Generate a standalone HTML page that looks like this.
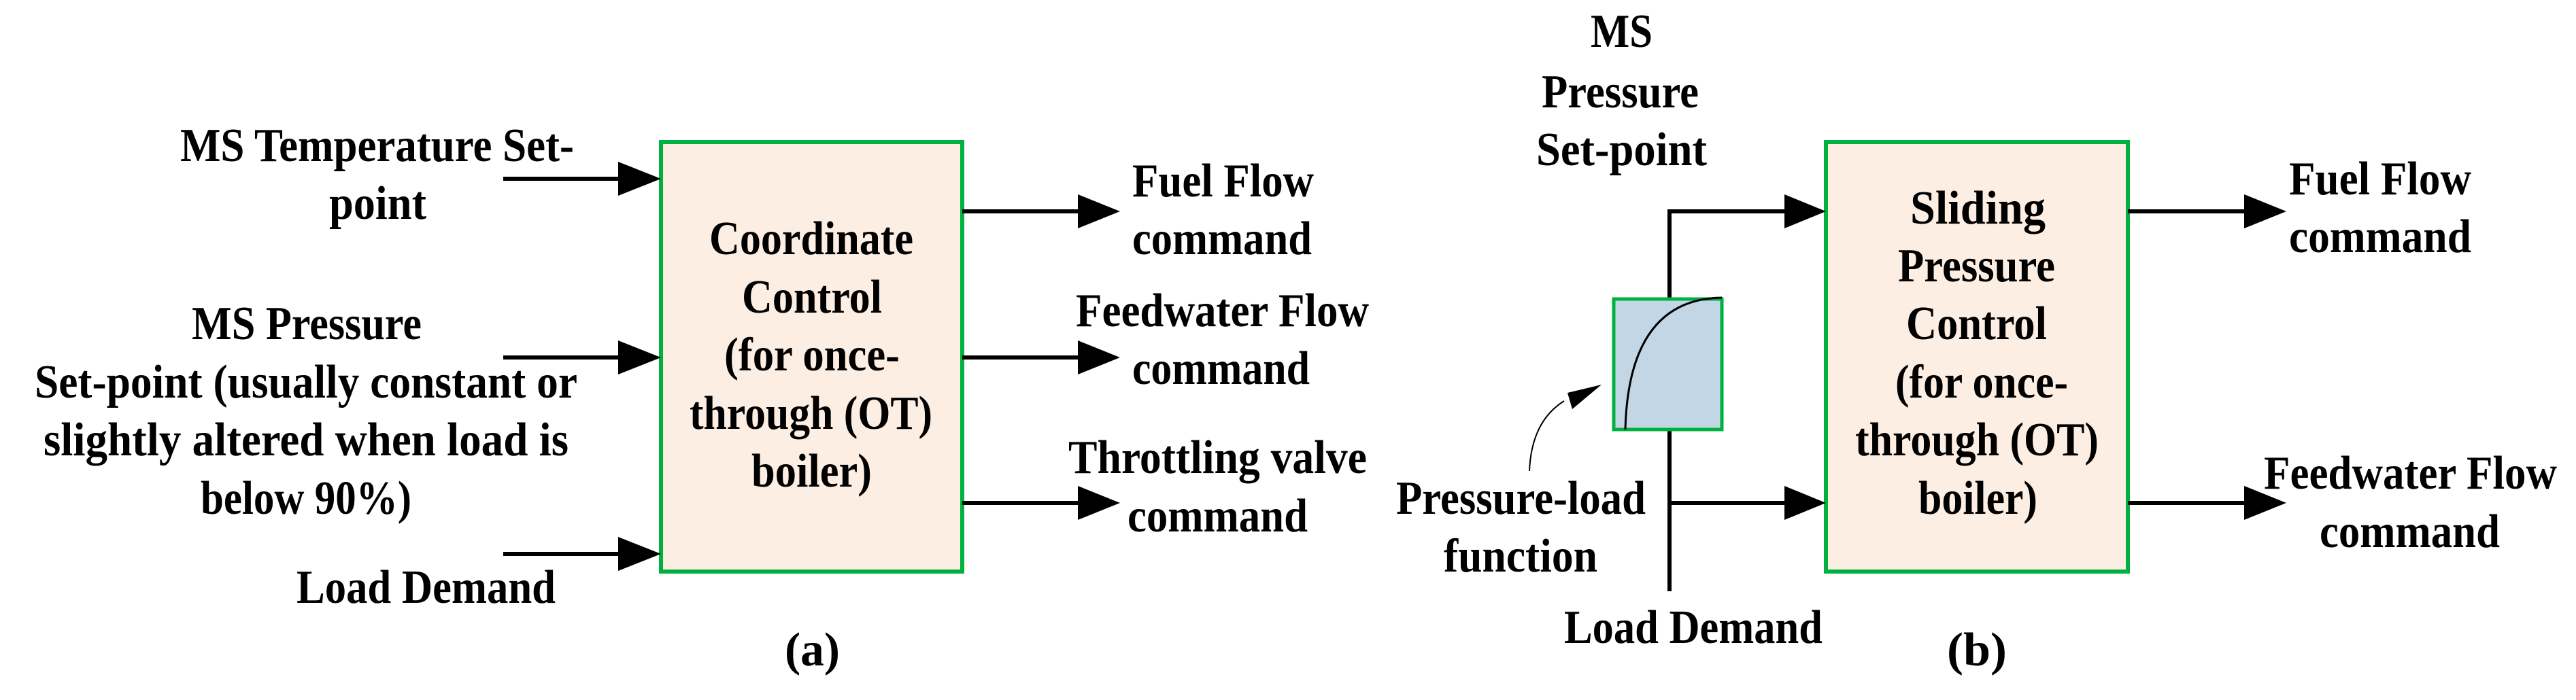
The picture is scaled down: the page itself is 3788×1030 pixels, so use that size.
<!DOCTYPE html>
<html><head><meta charset="utf-8"><style>
html,body{margin:0;padding:0;background:#fff;}
svg{display:block;}
text{font-family:"Liberation Serif",serif;font-size:70px;font-weight:bold;fill:#000;}
</style></head><body>
<svg width="3788" height="1030" viewBox="0 0 3788 1030" xmlns="http://www.w3.org/2000/svg">
<rect x="972" y="209" width="443" height="632" fill="#fdeee3" stroke="#00b140" stroke-width="6"/>
<g stroke="#000" stroke-width="6">
<line x1="740" y1="263" x2="915" y2="263"/>
<line x1="740" y1="526" x2="915" y2="526"/>
<line x1="740" y1="815" x2="915" y2="815"/>
<line x1="1415" y1="311" x2="1590" y2="311"/>
<line x1="1415" y1="526" x2="1590" y2="526"/>
<line x1="1415" y1="740" x2="1590" y2="740"/>
</g>
<g fill="#000">
<polygon points="909,238 972,263 909,288"/>
<polygon points="909,501 972,526 909,551"/>
<polygon points="909,790 972,815 909,840"/>
<polygon points="1585,286 1647,311 1585,336"/>
<polygon points="1585,501 1647,526 1585,551"/>
<polygon points="1585,715 1647,740 1585,765"/>
</g>
<text x="265" y="237" textLength="579" lengthAdjust="spacingAndGlyphs">MS Temperature Set-</text>
<text x="484" y="322" textLength="143" lengthAdjust="spacingAndGlyphs">point</text>
<text x="282" y="499" textLength="338" lengthAdjust="spacingAndGlyphs">MS Pressure</text>
<text x="51" y="585" textLength="798" lengthAdjust="spacingAndGlyphs">Set-point (usually constant or</text>
<text x="64" y="670" textLength="772" lengthAdjust="spacingAndGlyphs">slightly altered when load is</text>
<text x="295" y="756" textLength="310" lengthAdjust="spacingAndGlyphs">below 90%)</text>
<text x="436" y="887" textLength="381" lengthAdjust="spacingAndGlyphs">Load Demand</text>
<text x="1154" y="979" textLength="81" lengthAdjust="spacingAndGlyphs" font-size="76">(a)</text>
<text x="1043" y="374" textLength="300" lengthAdjust="spacingAndGlyphs">Coordinate</text>
<text x="1091" y="460" textLength="206" lengthAdjust="spacingAndGlyphs">Control</text>
<text x="1065" y="545" textLength="258" lengthAdjust="spacingAndGlyphs">(for once-</text>
<text x="1014" y="631" textLength="357" lengthAdjust="spacingAndGlyphs">through (OT)</text>
<text x="1105" y="716" textLength="177" lengthAdjust="spacingAndGlyphs">boiler)</text>
<text x="1665" y="289" textLength="267" lengthAdjust="spacingAndGlyphs">Fuel Flow</text>
<text x="1665" y="374" textLength="264" lengthAdjust="spacingAndGlyphs">command</text>
<text x="1582" y="480" textLength="431" lengthAdjust="spacingAndGlyphs">Feedwater Flow</text>
<text x="1665" y="565" textLength="261" lengthAdjust="spacingAndGlyphs">command</text>
<text x="1571" y="696" textLength="439" lengthAdjust="spacingAndGlyphs">Throttling valve</text>
<text x="1658" y="782" textLength="265" lengthAdjust="spacingAndGlyphs">command</text>

<rect x="2685" y="209" width="444" height="632" fill="#fdeee3" stroke="#00b140" stroke-width="6"/>
<g stroke="#000" stroke-width="6" fill="none">
<polyline points="2455,438 2455,311 2630,311"/>
<line x1="2455" y1="633" x2="2455" y2="870"/>
<line x1="2455" y1="740" x2="2630" y2="740"/>
<line x1="3129" y1="311" x2="3305" y2="311"/>
<line x1="3129" y1="740" x2="3305" y2="740"/>
</g>
<g fill="#000">
<polygon points="2624,286 2685,311 2624,336"/>
<polygon points="2624,715 2685,740 2624,765"/>
<polygon points="3300,286 3362,311 3300,336"/>
<polygon points="3300,715 3362,740 3300,765"/>
</g>
<rect x="2373" y="440" width="159" height="192" fill="#c3d6e5" stroke="#00b140" stroke-width="5"/>
<path d="M2390,632 Q2395,440 2532,438" fill="none" stroke="#000" stroke-width="3"/>
<path d="M2249,693 Q2252,620 2300,590" fill="none" stroke="#000" stroke-width="2"/>
<polygon points="2355,566 2305,578 2312,602" fill="#000"/>
<text x="2339" y="69" textLength="91" lengthAdjust="spacingAndGlyphs">MS</text>
<text x="2267" y="158" textLength="231" lengthAdjust="spacingAndGlyphs">Pressure</text>
<text x="2259" y="243" textLength="251" lengthAdjust="spacingAndGlyphs">Set-point</text>
<text x="2053" y="756" textLength="367" lengthAdjust="spacingAndGlyphs">Pressure-load</text>
<text x="2123" y="841" textLength="226" lengthAdjust="spacingAndGlyphs">function</text>
<text x="2300" y="946" textLength="380" lengthAdjust="spacingAndGlyphs">Load Demand</text>
<text x="2863" y="979" textLength="88" lengthAdjust="spacingAndGlyphs" font-size="76">(b)</text>
<text x="2809" y="329" textLength="199" lengthAdjust="spacingAndGlyphs">Sliding</text>
<text x="2791" y="414" textLength="231" lengthAdjust="spacingAndGlyphs">Pressure</text>
<text x="2803" y="499" textLength="207" lengthAdjust="spacingAndGlyphs">Control</text>
<text x="2787" y="585" textLength="254" lengthAdjust="spacingAndGlyphs">(for once-</text>
<text x="2728" y="670" textLength="358" lengthAdjust="spacingAndGlyphs">through (OT)</text>
<text x="2821" y="756" textLength="175" lengthAdjust="spacingAndGlyphs">boiler)</text>
<text x="3366" y="286" textLength="268" lengthAdjust="spacingAndGlyphs">Fuel Flow</text>
<text x="3366" y="371" textLength="268" lengthAdjust="spacingAndGlyphs">command</text>
<text x="3329" y="719" textLength="431" lengthAdjust="spacingAndGlyphs">Feedwater Flow</text>
<text x="3411" y="805" textLength="265" lengthAdjust="spacingAndGlyphs">command</text>
</svg>
</body></html>
